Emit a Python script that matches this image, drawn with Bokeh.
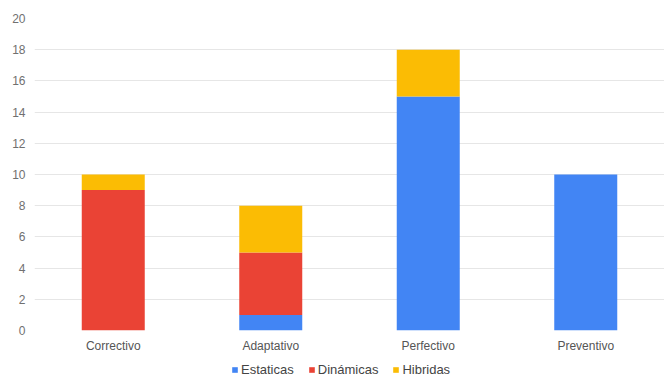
from bokeh.plotting import figure
from bokeh.models import ColumnDataSource, Legend, FixedTicker, Range1d
from bokeh.layouts import column
from bokeh.embed import file_html
from bokeh.resources import INLINE

categories = ["Correctivo", "Adaptativo", "Perfectivo", "Preventivo"]
series = ["Estaticas", "Dinámicas", "Hibridas"]
estaticas = [0, 1, 15, 10]
dinamicas = [9, 4, 0, 0]
hibridas = [1, 3, 3, 0]
colors = ["#4285F4", "#EA4335", "#FBBC04"]
y_ticks = [0, 2, 4, 6, 8, 10, 12, 14, 16, 18, 20]

source = ColumnDataSource(dict(cat=categories, Estaticas=estaticas,
                               **{"Dinámicas": dinamicas}, Hibridas=hibridas))

p = figure(x_range=categories, y_range=Range1d(0, 20),
           width=664, height=363,
           min_border_left=34, min_border_right=0, min_border_top=18, min_border_bottom=33,
           output_backend="svg", toolbar_location=None)
p.x_range.range_padding = 0

p.vbar_stack(series, x="cat", width=0.4, color=colors, source=source, line_width=0)

p.xgrid.grid_line_color = None
p.ygrid.grid_line_color = "#e6e6e6"
p.ygrid.grid_line_width = 1
p.ygrid.ticker = FixedTicker(ticks=y_ticks)
p.yaxis.ticker = FixedTicker(ticks=y_ticks)
p.outline_line_color = None

for ax in (p.xaxis[0], p.yaxis[0]):
    ax.axis_line_color = None
    ax.major_tick_line_color = None
    ax.minor_tick_line_color = None
    ax.major_tick_out = 0
    ax.major_tick_in = 0
    ax.major_label_text_font = "Liberation Sans"
    ax.major_label_text_font_size = "12px"
p.yaxis.major_label_text_color = "#707070"
p.xaxis.major_label_text_color = "#555555"
p.yaxis.major_label_standoff = 9
p.xaxis.major_label_standoff = 8

# legend strip below the chart (its bars lie outside its visible y range)
lg = figure(width=664, height=14, x_range=categories, y_range=Range1d(100, 101),
            x_axis_type=None, y_axis_type=None,
            min_border=0, min_border_left=0, min_border_right=0,
            output_backend="svg", toolbar_location=None)
lg.outline_line_color = None
lg.grid.visible = False
lg_renderers = lg.vbar_stack(series, x="cat", width=0.4, color=colors, source=source, line_width=0)
legend = Legend(items=[(s, [r]) for s, r in zip(series, lg_renderers)],
                orientation="horizontal", location=(197, 0),
                glyph_width=7, glyph_height=7, label_height=14,
                label_text_font="Liberation Sans",
                label_text_font_size="13px", label_text_color="#444444",
                spacing=14, padding=0, margin=0, label_standoff=3,
                border_line_color=None, background_fill_alpha=0)
lg.add_layout(legend, "center")

layout = column(p, lg, spacing=0)
open("out.html", "w").write(file_html(layout, INLINE))
